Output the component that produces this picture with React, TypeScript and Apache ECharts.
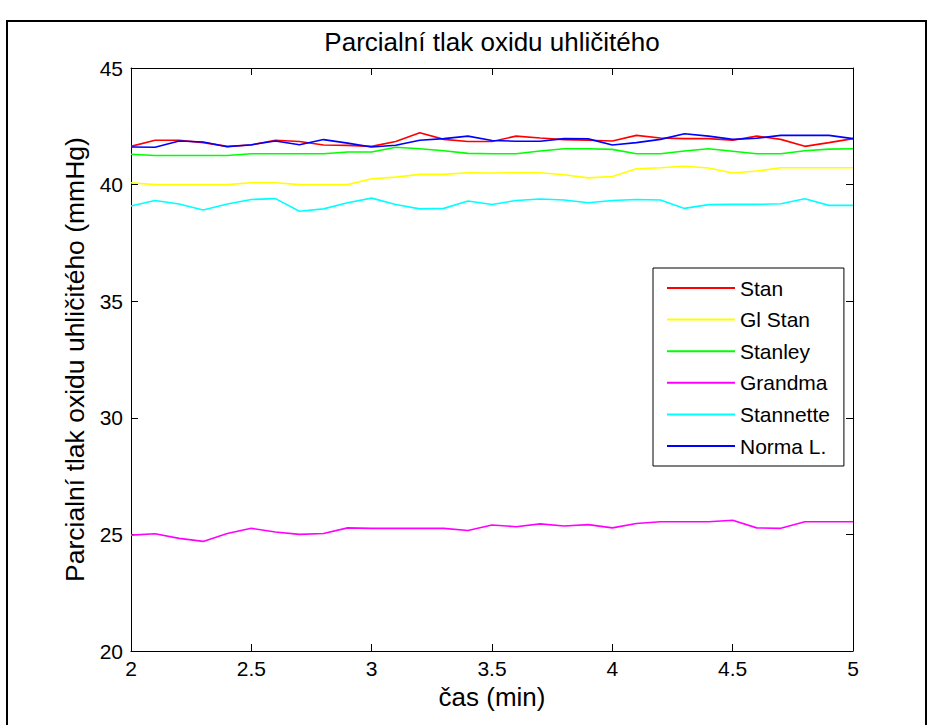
import React, { useEffect, useRef } from "react";
import * as echarts from "echarts";

const FONT = "'Liberation Sans', Arial, Helvetica, sans-serif";

const chartTitle = "Parcialní tlak oxidu uhličitého";
const xAxisName = "čas (min)";
const yAxisName = "Parcialní tlak oxidu uhličitého (mmHg)";

const seriesNames = ["Stan", "Gl Stan", "Stanley", "Grandma", "Stannette", "Norma L."];
const seriesColors = ["#ff0000", "#ffff00", "#00ff00", "#ff00ff", "#00ffff", "#0000ff"];

const times = [
  2.0, 2.1, 2.2, 2.3, 2.4, 2.5, 2.6, 2.7, 2.8, 2.9,
  3.0, 3.1, 3.2, 3.3, 3.4, 3.5, 3.6, 3.7, 3.8, 3.9,
  4.0, 4.1, 4.2, 4.3, 4.4, 4.5, 4.6, 4.7, 4.8, 4.9, 5.0,
];

const stan = [
  41.64, 41.9, 41.9, 41.8, 41.64, 41.7, 41.9, 41.85, 41.7, 41.68,
  41.64, 41.85, 42.22, 41.94, 41.85, 41.85, 42.08, 42.0, 41.93, 41.9,
  41.87, 42.11, 42.0, 41.97, 41.97, 41.9, 42.08, 41.94, 41.64, 41.8, 41.97,
];

const glStan = [
  40.08, 40.0, 40.0, 40.0, 40.0, 40.08, 40.08, 40.0, 40.0, 40.0,
  40.25, 40.32, 40.44, 40.44, 40.51, 40.5, 40.51, 40.51, 40.42, 40.29,
  40.35, 40.68, 40.72, 40.79, 40.71, 40.5, 40.58, 40.72, 40.72, 40.72, 40.72,
];

const stanley = [
  41.3, 41.25, 41.25, 41.25, 41.25, 41.32, 41.32, 41.32, 41.32, 41.4,
  41.4, 41.6, 41.54, 41.45, 41.34, 41.32, 41.32, 41.44, 41.54, 41.54,
  41.51, 41.32, 41.32, 41.44, 41.54, 41.43, 41.32, 41.32, 41.45, 41.52, 41.54,
];

const grandma = [
  24.97, 25.03, 24.83, 24.7, 25.04, 25.26, 25.1, 25.0, 25.04, 25.28,
  25.26, 25.26, 25.26, 25.26, 25.17, 25.4, 25.33, 25.45, 25.36, 25.42,
  25.28, 25.47, 25.54, 25.54, 25.54, 25.61, 25.28, 25.26, 25.54, 25.54, 25.54,
];

const stannette = [
  39.08, 39.32, 39.17, 38.91, 39.17, 39.36, 39.4, 38.86, 38.96, 39.22,
  39.42, 39.15, 38.96, 38.98, 39.3, 39.15, 39.32, 39.38, 39.34, 39.22,
  39.32, 39.36, 39.34, 38.98, 39.14, 39.15, 39.15, 39.18, 39.39, 39.11, 39.11,
];

const normaL = [
  41.61, 41.6, 41.87, 41.83, 41.62, 41.71, 41.87, 41.71, 41.93, 41.78,
  41.61, 41.69, 41.9, 41.97, 42.08, 41.89, 41.86, 41.86, 41.97, 41.96,
  41.7, 41.8, 41.94, 42.18, 42.08, 41.94, 41.99, 42.11, 42.11, 42.11, 41.97,
];

const allValues = [stan, glStan, stanley, grandma, stannette, normaL];

const xMin = 2;
const xMax = 5;
const xStep = 0.5;
const yMin = 20;
const yMax = 45;
const yStep = 5;

export default function App() {
  const ref = useRef<HTMLDivElement>(null);

  useEffect(() => {
    if (!ref.current) return;
    const chart = echarts.init(ref.current, null, { renderer: "svg" });

    const axisLine = { show: true, lineStyle: { color: "#000", width: 1 } };
    const axisTick = { show: true, inside: true, length: 7, lineStyle: { color: "#000", width: 1 } };

    const series = seriesNames.map((name, i) => ({
      name,
      type: "line",
      xAxisIndex: 0,
      yAxisIndex: 0,
      symbol: "none",
      showSymbol: false,
      lineStyle: { color: seriesColors[i], width: 1.6 },
      itemStyle: { color: seriesColors[i] },
      data: times.map((t, j) => [t, allValues[i][j]]),
    }));

    chart.setOption({
      animation: false,
      backgroundColor: "#ffffff",
      textStyle: { fontFamily: FONT },
      grid: { left: 131, right: 78, top: 68, bottom: 74, containLabel: false },
      xAxis: [
        {
          type: "value",
          position: "bottom",
          min: xMin,
          max: xMax,
          interval: xStep,
          axisLine,
          axisTick,
          splitLine: { show: false },
          axisLabel: { color: "#000", fontSize: 21, margin: 7, fontFamily: FONT },
          name: xAxisName,
          nameLocation: "middle",
          nameGap: 30,
          nameTextStyle: { color: "#000", fontSize: 26, fontFamily: FONT },
        },
        {
          type: "value",
          position: "top",
          min: xMin,
          max: xMax,
          interval: xStep,
          axisLine,
          axisTick,
          splitLine: { show: false },
          axisLabel: { show: false },
        },
      ],
      yAxis: [
        {
          type: "value",
          position: "left",
          min: yMin,
          max: yMax,
          interval: yStep,
          axisLine,
          axisTick,
          splitLine: { show: false },
          axisLabel: { color: "#000", fontSize: 21, margin: 8, fontFamily: FONT },
          name: yAxisName,
          nameLocation: "middle",
          nameGap: 41,
          nameTextStyle: { color: "#000", fontSize: 26.5, fontFamily: FONT },
        },
        {
          type: "value",
          position: "right",
          min: yMin,
          max: yMax,
          interval: yStep,
          axisLine,
          axisTick,
          splitLine: { show: false },
          axisLabel: { show: false },
        },
      ],
      legend: {
        orient: "vertical",
        left: 653,
        top: 268,
        padding: [9, 14, 9, 14],
        itemWidth: 68,
        itemHeight: 2,
        itemGap: 9.6,
        icon: "rect",
        backgroundColor: "#ffffff",
        borderColor: "#000",
        borderWidth: 1,
        borderRadius: 0,
        textStyle: { color: "#000", fontSize: 21, lineHeight: 22, fontFamily: FONT },
        data: seriesNames,
      },
      graphic: [
        {
          type: "rect",
          z: -10,
          shape: { x: 7, y: 21, width: 919, height: 720 },
          style: { fill: "none", stroke: "#000", lineWidth: 2 },
        },
        {
          type: "text",
          x: 492,
          y: 42,
          style: {
            text: chartTitle,
            fill: "#000",
            font: `26px ${FONT}`,
            textAlign: "center",
            textVerticalAlign: "middle",
          },
        },
      ],
      series,
    });

    return () => chart.dispose();
  }, []);

  return (
    <div
      ref={ref}
      style={{ position: "fixed", left: 0, top: 0, width: 931, height: 725, background: "#fff" }}
    />
  );
}
